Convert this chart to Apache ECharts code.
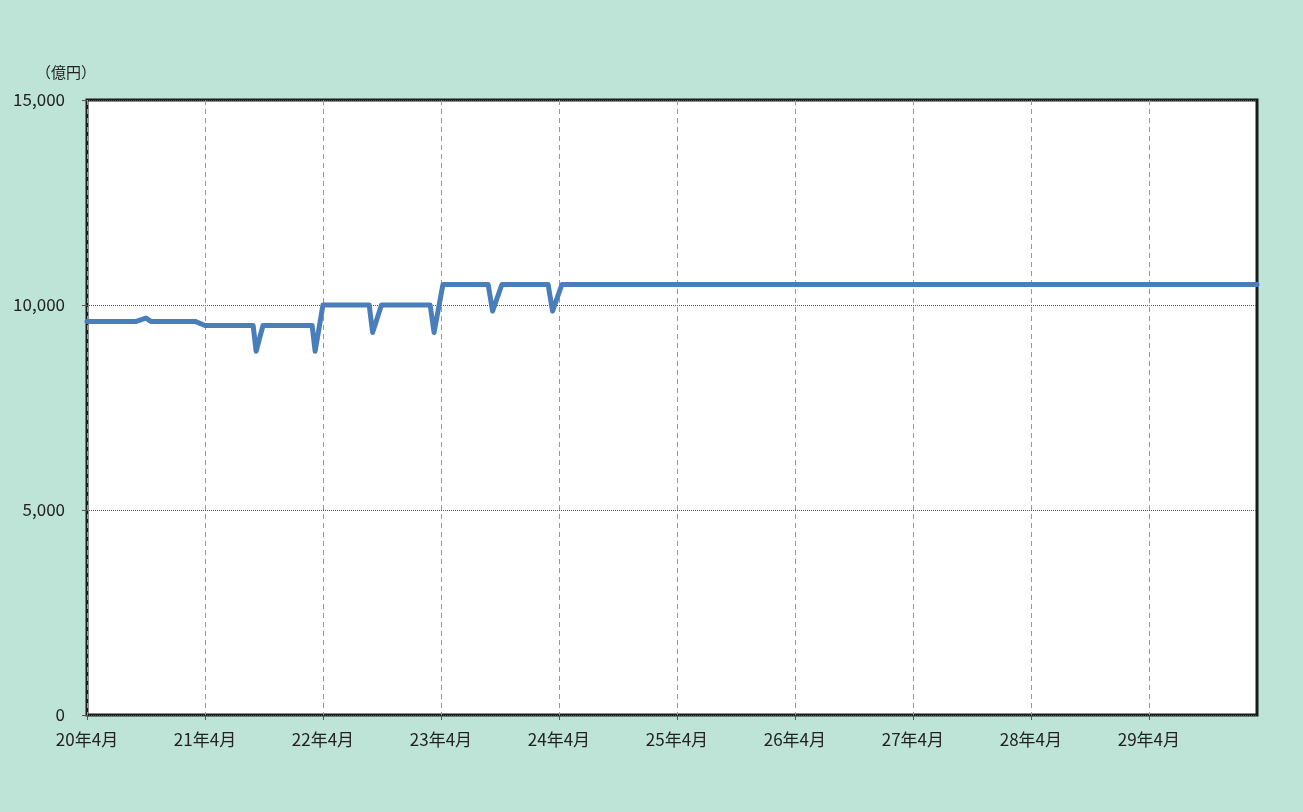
<!DOCTYPE html>
<html>
<head>
<meta charset="utf-8">
<script src="https://cdn.jsdelivr.net/npm/echarts@6/dist/echarts.min.js"></script>
<style>
  html, body { margin: 0; padding: 0; background: #bee3d7; }
  #chart { width: 1303px; height: 812px; }
</style>
</head>
<body>
<div id="chart"></div>
<script>
// x = months counted from 20年4月 (0 .. 119 = 30年3月)
const months = [0, 5, 6, 6.5, 11, 12, 16.9, 17.2, 17.9, 22.9, 23.2, 24,
  28.7, 29.05, 29.95, 34.9, 35.3, 36.2, 40.8, 41.25, 42.2, 46.9, 47.35, 48.3, 119];
const values = [9600, 9600, 9680, 9600, 9600, 9500, 9500, 8870, 9500, 9500, 8870, 10000,
  10000, 9330, 10000, 10000, 9330, 10500, 10500, 9850, 10500, 10500, 9850, 10500, 10500];

const xTickValues = [0, 12, 24, 36, 48, 60, 72, 84, 96, 108];
const xTickLabels = ['20年4月', '21年4月', '22年4月', '23年4月', '24年4月',
  '25年4月', '26年4月', '27年4月', '28年4月', '29年4月'];
const yTicks = [0, 5000, 10000, 15000];

const font = '"Noto Sans CJK JP", "Noto Sans", sans-serif';

let myChart = echarts.init(document.getElementById('chart'));
myChart.setOption({
  backgroundColor: '#bee3d7',
  animation: false,
  graphic: [{
    type: 'text',
    left: 36,
    top: 65,
    style: { text: '（億円）', fontSize: 15, fill: '#222', fontFamily: font }
  }],
  grid: {
    left: 87, right: 46, top: 100, bottom: 97,
    show: true,
    backgroundColor: '#fff',
    borderColor: '#1a1a1a',
    borderWidth: 3
  },
  xAxis: {
    type: 'value',
    min: 0,
    max: 119,
    interval: 12,
    axisLine: { show: false },
    axisTick: {
      show: true, length: 5, customValues: xTickValues,
      lineStyle: { color: '#555' }
    },
    axisLabel: {
      customValues: xTickValues,
      margin: 16,
      fontSize: 17,
      color: '#222',
      fontFamily: font,
      formatter: function (v) {
        return xTickLabels[xTickValues.indexOf(v)] || '';
      }
    },
    splitLine: {
      show: true,
      lineStyle: { color: '#999', type: [5, 4], width: 1 }
    }
  },
  yAxis: {
    type: 'value',
    min: 0,
    max: 15000,
    interval: 5000,
    axisLine: { show: false },
    axisTick: { show: true, length: 5, lineStyle: { color: '#555' } },
    axisLabel: {
      margin: 22,
      fontSize: 17,
      color: '#222',
      fontFamily: font,
      formatter: function (v) {
        return yTicks.indexOf(v) >= 0 ? v.toLocaleString('en-US') : '';
      }
    },
    splitLine: {
      show: true,
      lineStyle: { color: '#555', type: [1, 1], width: 1 }
    }
  },
  series: [{
    type: 'line',
    data: months.map(function (m, i) { return [m, values[i]]; }),
    symbol: 'none',
    clip: true,
    lineStyle: { color: '#4a7ebb', width: 5, cap: 'round', join: 'round' }
  }]
});
</script>
</body>
</html>
